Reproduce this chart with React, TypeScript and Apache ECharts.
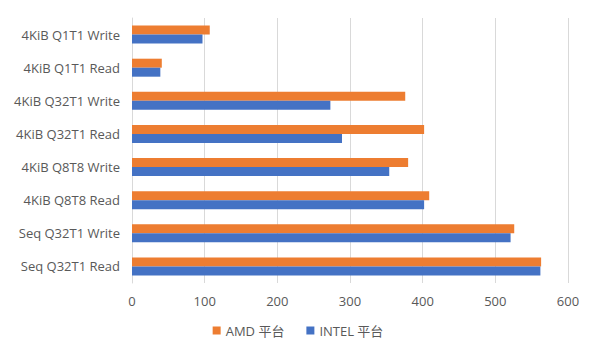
import React, { useEffect, useRef } from "react";
import * as echarts from "echarts";

const categories = [
  "Seq Q32T1 Read",
  "Seq Q32T1 Write",
  "4KiB Q8T8 Read",
  "4KiB Q8T8 Write",
  "4KiB Q32T1 Read",
  "4KiB Q32T1 Write",
  "4KiB Q1T1 Read",
  "4KiB Q1T1 Write",
];
const amdValues = [563, 526, 409, 380, 402, 376, 41, 107];
const intelValues = [562, 521, 402, 354, 289, 273, 39, 97];
const xTicks = { min: 0, max: 600, interval: 100 };
const seriesNames = ["AMD 平台", "INTEL 平台"];

export default function App() {
  const ref = useRef<HTMLDivElement>(null);
  useEffect(() => {
    if (!ref.current) return;
    const chart = echarts.init(ref.current, undefined, { renderer: "svg" });
    const font = "'Open Sans', 'Noto Sans CJK SC', sans-serif";
    chart.setOption({
      animation: false,
      backgroundColor: "#ffffff",
      textStyle: { fontFamily: font },
      grid: { left: 132, right: 28, top: 18, bottom: 74, containLabel: false },
      legend: {
        data: seriesNames,
        bottom: 15,
        left: "center",
        itemWidth: 8,
        itemHeight: 8,
        itemGap: 22,
        icon: "rect",
        textStyle: { color: "#595959", fontSize: 13, fontFamily: font },
      },
      xAxis: {
        type: "value",
        min: xTicks.min,
        max: xTicks.max,
        interval: xTicks.interval,
        axisLine: { show: false },
        axisTick: { show: false },
        axisLabel: { color: "#595959", fontSize: 13, margin: 11, fontFamily: font },
        splitLine: { lineStyle: { color: "#d9d9d9", width: 1 } },
      },
      yAxis: {
        type: "category",
        data: categories,
        axisLine: { show: true, lineStyle: { color: "#d9d9d9" } },
        axisTick: { show: false },
        axisLabel: { color: "#595959", fontSize: 13, margin: 12, fontFamily: font },
      },
      series: [
        {
          name: "AMD 平台",
          type: "bar",
          data: amdValues,
          barWidth: 9,
          barGap: "0%",
          itemStyle: { color: "#ED7D31" },
        },
        {
          name: "INTEL 平台",
          type: "bar",
          data: intelValues,
          barWidth: 9,
          barGap: "0%",
          itemStyle: { color: "#4472C4" },
        },
      ],
    });
    return () => chart.dispose();
  }, []);
  return (
    <div
      ref={ref}
      style={{ position: "absolute", left: 0, top: 0, width: 596, height: 357 }}
    />
  );
}
